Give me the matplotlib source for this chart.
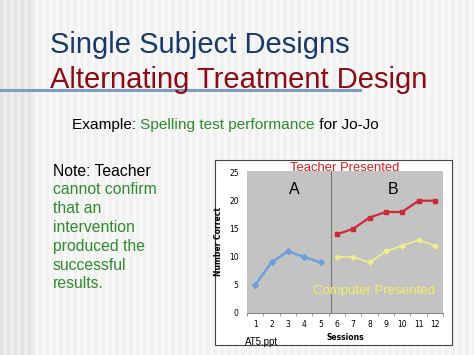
import numpy as np
import matplotlib
matplotlib.use("Agg")
import matplotlib.pyplot as plt
from matplotlib.patches import Rectangle

# ==========================================================
# DATA
# ==========================================================
sessions_a = [1, 2, 3, 4, 5]
baseline = [5, 9, 11, 10, 9]

sessions_b = [6, 7, 8, 9, 10, 11, 12]
teacher = [14, 15, 17, 18, 18, 20, 20]
computer = [10, 10, 9, 11, 12, 13, 12]

x_ticks = list(range(1, 13))
y_ticks = [0, 5, 10, 15, 20, 25]
phase_change = 5.65

note_lines = ["Note: Teacher", "cannot confirm", "that an", "intervention",
              "produced the", "successful", "results."]

FONT = "Liberation Sans"
W, H = 474, 355

# ==========================================================
# FIGURE + SLIDE BACKGROUND
# ==========================================================
fig = plt.figure(figsize=(W / 100, H / 100), dpi=100)
fig.patch.set_facecolor("#f1f1f1")

bg = fig.add_axes([0, 0, 1, 1])
bg.set_xlim(0, W)
bg.set_ylim(H, 0)
bg.axis("off")

# faint vertical stripes, greyer toward the left edge
for sx in np.arange(0, W, 7):
    c = "#e2e2e2" if sx < 35 else "#f8f8f8"
    bg.add_patch(Rectangle((sx, 0), 3.5, H, color=c, lw=0, zorder=0))
for sx in np.arange(3.5, 35, 7):
    bg.add_patch(Rectangle((sx, 0), 3.5, H, color="#ececec", lw=0, zorder=0))

# title
bg.text(50, 45, "Single Subject Designs", fontsize=21, color="#173a6a",
        family=FONT, va="center", zorder=3)
bg.text(50, 80, "Alternating Treatment Design", fontsize=21, color="#8e0a12",
        family=FONT, va="center", zorder=3)
bg.plot([0, 360], [89.5, 89.5], color="#7d9cc0", lw=2.2, zorder=2)

# example line
t1 = bg.text(72, 125, "Example: ", fontsize=11.1, color="black", family=FONT,
             va="center", zorder=3)
t2 = bg.annotate("Spelling test performance", xycoords=t1, xy=(1, 0.5), va="center",
                 fontsize=11.1, color="#2e8b2e", family=FONT, zorder=3)
bg.annotate(" for Jo-Jo", xycoords=t2, xy=(1, 0.5), va="center",
            fontsize=11.1, color="black", family=FONT, zorder=3)

# note text
for i, line in enumerate(note_lines):
    bg.text(53, 171 + i * 18.8, line, fontsize=11.3, family=FONT, va="center",
            color="black" if i == 0 else "#2e8b2e", zorder=3)

# white chart box
bg.add_patch(Rectangle((215, 160), 237, 185, facecolor="white",
                       edgecolor="#444444", lw=0.8, zorder=2))

# ==========================================================
# CHART
# ==========================================================
ax = fig.add_axes([247 / W, 1 - 313 / H, 196 / W, 142 / H])
ax.set_facecolor("#c3c3c3")

ax.plot(sessions_a, baseline, color="#6f9fd8", lw=1.8, marker="D", ms=3)
ax.plot(sessions_b, teacher, color="#cc2a36", lw=1.6, marker="s", ms=3.5)
ax.plot(sessions_b, computer, color="#f2f08a", lw=1.2, marker="D", ms=2.5)
ax.axvline(phase_change, color="#777777", lw=0.8)

ax.set_xlim(0.5, 12.5)
ax.set_ylim(0, 25.3)
ax.set_xticks(x_ticks)
ax.set_yticks(y_ticks)
ax.set_xticks(np.arange(0.5, 13, 1), minor=True)
ax.tick_params(axis="x", which="major", length=0, labelsize=5.5, pad=5)
ax.tick_params(axis="x", which="minor", length=2.5, color="#888888")
ax.tick_params(axis="y", length=0, labelsize=5.5, pad=6)
for side in ["top", "right", "left"]:
    ax.spines[side].set_visible(False)
ax.spines["bottom"].set_color("#888888")
ax.spines["bottom"].set_linewidth(0.8)

ax.set_xlabel("Sessions", fontsize=5.5, fontweight="bold", labelpad=3)
ax.set_ylabel("Number Correct", fontsize=5.5, fontweight="bold", labelpad=4)

# ==========================================================
# OVERLAY TEXT (above the chart)
# ==========================================================
top = fig.add_axes([0, 0, 1, 1], facecolor="none")
top.set_xlim(0, W)
top.set_ylim(H, 0)
top.axis("off")

top.text(345, 168, "Teacher Presented", fontsize=9.4, color="#d81e1e",
         family=FONT, ha="center", va="center")
top.text(294, 190, "A", fontsize=11.5, family=FONT, ha="center", va="center")
top.text(393, 190, "B", fontsize=11.5, family=FONT, ha="center", va="center")
top.text(374, 291, "Computer Presented", fontsize=9.5, color="#f4f060",
         family=FONT, ha="center", va="center")
top.text(245, 342, "AT5.ppt", fontsize=7, family=FONT, va="center")

fig.savefig("out.png", dpi=100, facecolor=fig.get_facecolor())
